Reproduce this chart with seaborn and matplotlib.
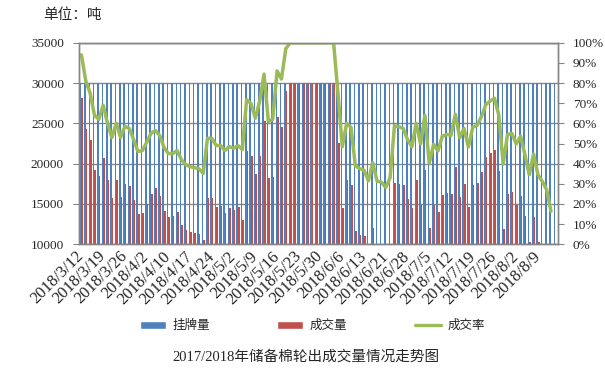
import numpy as np
import pandas as pd
import seaborn as sns
import matplotlib.pyplot as plt
import matplotlib.ticker as mticker
from matplotlib.patches import Patch
from matplotlib.lines import Line2D

# trading days: weekdays minus holidays, plus make-up workdays
holidays = ['2018-04-05', '2018-04-06', '2018-04-30', '2018-05-01', '2018-06-18']
extra_days = ['2018-04-08', '2018-04-28']
days = pd.bdate_range('2018-03-12', '2018-08-15')
days = days.drop(pd.to_datetime(holidays)).union(pd.to_datetime(extra_days))
dates = [f'{d.year}/{d.month}/{d.day}' for d in days]

# 成交量 (tons)
deal = [
    28140, 24340, 22930, 19215, 18510, 20700, 17975, 15745, 17975, 15870,
    17520, 17270, 15500, 13760, 13880, 15000, 16280, 16980, 15950, 14130,
    13390, 13510, 14000, 12400, 11780, 11530, 11400, 11280, 10540, 15740,
    15740, 14630, 14800, 13880, 14500, 14260, 14590, 13050, 21570, 20900,
    18700, 20950, 25260, 18180, 18300, 25800, 24500, 29050, 30000, 30000,
    30000, 30000, 30000, 30000, 30000, 30000, 30000, 30000, 30000, 22560,
    14500, 18000, 17400, 11700, 11200, 11000, 9450, 12000, 9400, 9250,
    8450, 9900, 17600, 17500, 17300, 15600, 14500, 18000, 14900, 19200,
    12000, 14900, 14000, 16150, 16400, 16200, 19600, 15900, 17500, 14600,
    17400, 17600, 19000, 20800, 21300, 21700, 19100, 11900, 16280, 16490,
    14920, 16000, 13510, 10290, 13390, 10290, 9360, 8130, 4920, 0,
]
# 挂牌量 (tons): the daily listing is flat
listed = [30000] * len(dates)
# 成交率 (%)
rate = [
    94, 81, 75, 64, 62, 69, 60, 53, 60, 53,
    58.5, 57.5, 52, 46, 46.5, 50.5, 55, 56.5, 54, 48,
    45, 45, 46.5, 42, 39.5, 38.5, 38, 37.5, 35.2, 52.6,
    52.5, 49, 49, 46.5, 48.5, 47.6, 49, 47, 71.8, 69.8,
    62.6, 71, 84.4, 61, 62, 86, 82, 97, 100, 100,
    100, 100, 100, 100, 100, 100, 100, 100, 100, 75,
    48.4, 60, 58, 39, 37.5, 36.8, 31.5, 40.5, 31.3, 30.8,
    28.2, 33, 58.8, 58.3, 57.5, 52, 48.4, 60, 49.8, 64,
    40.2, 49.6, 46.3, 53.6, 54.5, 54, 64.5, 52.8, 57.5, 48.3,
    58, 59, 63.3, 69.3, 71, 72.5, 64, 39.8, 54.4, 55,
    49.8, 53.6, 44.6, 34.5, 44.8, 34.5, 31.2, 27.1, 16.4, np.nan,
]

blue, red, green, grid = '#4F81BD', '#C0504D', '#9BBB59', '#868686'
n = len(dates)

sns.set_style('white')
plt.rcParams['font.family'] = ['Liberation Serif', 'Noto Sans CJK SC']

df = pd.DataFrame({
    'date': dates * 2,
    'series': ['挂牌量'] * n + ['成交量'] * n,
    'value': listed + deal,
})

fig = plt.figure(figsize=(6.05, 3.77), dpi=100)
ax = fig.add_axes([0.131, 0.352, 0.7905, 0.5347])

sns.barplot(
    data=df, x='date', y='value', hue='series', order=dates,
    hue_order=['挂牌量', '成交量'], palette=[blue, red],
    width=0.72, saturation=1, errorbar=None, legend=False,
    linewidth=0, ax=ax, zorder=2,
)
ax.set_ylim(10000, 35000)
ax.set_xlim(-0.5, n - 0.5)
ax.yaxis.set_major_locator(mticker.MultipleLocator(5000))
ax.grid(axis='y', color=grid, lw=1, zorder=0)
ax.set_axisbelow(True)
for s in ax.spines.values():
    s.set_color(grid)
    s.set_linewidth(1)

ax.set_xticks(range(0, n, 5))
ax.set_xticklabels(dates[::5], rotation=45, ha='right', va='center',
                   rotation_mode='anchor', fontsize=12)
ax.xaxis.set_minor_locator(mticker.FixedLocator(np.arange(-0.5, n, 1)))
ax.tick_params(axis='x', which='major', length=0, pad=7)
ax.tick_params(axis='x', which='minor', length=4, color=grid, direction='out')
ax.tick_params(axis='y', length=4, color=grid, labelsize=9.5, pad=7)
ax.set_xlabel('')
ax.set_ylabel('')

ax2 = ax.twinx()
sns.lineplot(x=np.arange(n), y=np.array(rate) / 100, color=green, lw=2.5, ax=ax2)
ax2.set_ylim(0, 1)
ax2.yaxis.set_major_locator(mticker.MultipleLocator(0.1))
ax2.yaxis.set_major_formatter(mticker.PercentFormatter(1.0, decimals=0))
ax2.tick_params(axis='y', length=4, color=grid, labelsize=9.5, pad=7)
for s in ax2.spines.values():
    s.set_color(grid)
    s.set_linewidth(1)

handles = [
    Patch(facecolor=blue, label='挂牌量'),
    Patch(facecolor=red, label='成交量'),
    Line2D([], [], color=green, lw=2.4, label='成交率'),
]
fig.legend(handles=handles, loc='center', bbox_to_anchor=(0.516, 1 - 326 / 377),
           ncol=3, frameon=False, fontsize=9, handlelength=2.1,
           handleheight=0.6, handletextpad=0.5, columnspacing=5.4)

fig.text(43 / 605, 1 - 15 / 377, '单位：吨', fontsize=10.5, ha='left', va='center')
fig.text(306 / 605, 1 - 357 / 377, '2017/2018年储备棉轮出成交量情况走势图',
         fontsize=10.5, ha='center', va='center')

fig.savefig('out.png', dpi=100)
